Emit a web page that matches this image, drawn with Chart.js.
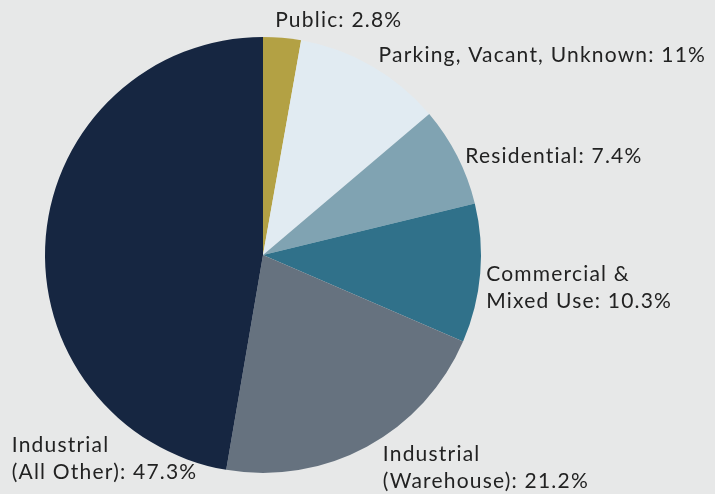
<!DOCTYPE html>
<html>
<head>
<meta charset="utf-8">
<script src="https://cdn.jsdelivr.net/npm/chart.js@4"></script>
<style>
  html, body { margin: 0; padding: 0; background: #e7e8e8; }
  #wrap { width: 715px; height: 494px; }
</style>
</head>
<body>
<div id="wrap"><canvas id="landUseChart"></canvas></div>
<script>
// land use shares, clockwise from 12 o'clock
const categories = [
    ['Public'],
    ['Parking, Vacant, Unknown'],
    ['Residential'],
    ['Commercial &', 'Mixed Use'],
    ['Industrial', '(Warehouse)'],
    ['Industrial', '(All Other)']
];
const shares = [2.8, 11, 7.4, 10.3, 21.2, 47.3];
const sliceColors = ['#b3a144', '#e1ebf2', '#80a3b2', '#30718a', '#66727f', '#162641'];

// where each label sits relative to the middle of its slice's rim
const labelOffsets = [[-7, -18], [7, -11], [8, 0], [6, 1], [16, 8], [-34, 209]];

const sliceLabels = {
    id: 'sliceLabels',
    afterDatasetsDraw(chart) {
        const ctx = chart.ctx;
        const arcs = chart.getDatasetMeta(0).data;
        ctx.save();
        ctx.font = '21px Lato, "Open Sans", sans-serif';
        ctx.letterSpacing = '1.2px';
        ctx.fillStyle = '#222';
        ctx.textBaseline = 'middle';
        ctx.textAlign = 'left';
        arcs.forEach((arc, i) => {
            const mid = (arc.startAngle + arc.endAngle) / 2;
            const x = arc.x + Math.cos(mid) * arc.outerRadius + labelOffsets[i][0];
            const y = arc.y + Math.sin(mid) * arc.outerRadius + labelOffsets[i][1];
            const lines = categories[i].slice();
            lines[lines.length - 1] += ': ' + shares[i] + '%';
            lines.forEach((line, j) => ctx.fillText(line, x, y + j * 27));
        });
        ctx.restore();
    }
};

new Chart(document.getElementById('landUseChart').getContext('2d'), {
    type: 'pie',
    data: {
        labels: categories.map(c => c.join(' ')),
        datasets: [{
            data: shares,
            backgroundColor: sliceColors,
            borderWidth: 0
        }]
    },
    options: {
        responsive: true,
        maintainAspectRatio: false,
        animation: false,
        layout: { padding: { left: 45, right: 234, top: 37, bottom: 21 } },
        plugins: {
            legend: { display: false },
            tooltip: { enabled: false }
        }
    },
    plugins: [sliceLabels]
});
</script>
</body>
</html>
